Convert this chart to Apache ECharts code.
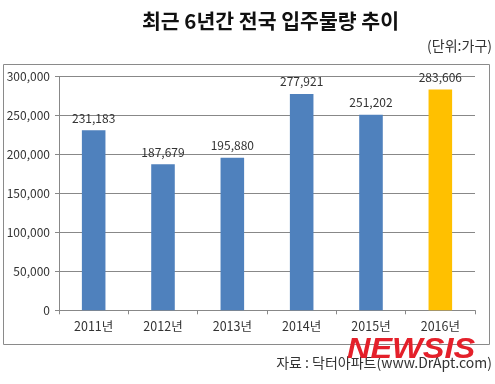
<!DOCTYPE html>
<html><head><meta charset="utf-8">
<script src="https://cdn.jsdelivr.net/npm/echarts@6/dist/echarts.min.js"></script>
<style>html,body{margin:0;padding:0;background:#fff}#c{width:495px;height:384px}</style>
</head><body><div id="c"></div>
<script>
const categories = ['2011년','2012년','2013년','2014년','2015년','2016년'];
const values = [231183, 187679, 195880, 277921, 251202, 283606];
const barColors = ['#4F81BD','#4F81BD','#4F81BD','#4F81BD','#4F81BD','#FFC000'];
const yTicks = [0, 50000, 100000, 150000, 200000, 250000, 300000];

const FONT = '"Noto Sans CJK KR", "Noto Sans", sans-serif';
const fmt = v => v.toLocaleString('en-US');
const chart = echarts.init(document.getElementById('c'), null, {renderer:'canvas'});
chart.setOption({
  animation:false,
  textStyle:{fontFamily:FONT},
  title:[
    {text:'최근 6년간 전국 입주물량 추이', left:137, top:6,
     textStyle:{fontSize:20.5, fontWeight:'bold', color:'#111', fontFamily:FONT}},
  ],
  graphic:[
    {type:'rect', shape:{x:3.5, y:64.5, width:486, height:280}, style:{fill:'none', stroke:'#8a8a8a', lineWidth:1}, z:-1},
    {type:'text', right:3, top:39, style:{text:'(단위:가구)', fontSize:14, fill:'#333', fontFamily:FONT}},
    {type:'text', right:3, top:356, style:{text:'자료 : 닥터아파트(www.DrApt.com)', fontSize:14, fill:'#333', fontFamily:FONT}, z:5},
    {type:'text', x:347, y:335, scaleX:1.12, z:20, style:{text:'NEWSIS', fontSize:29, fontWeight:900, fontStyle:'italic', fill:'#e4202a', fontFamily:'"Liberation Sans", Arial, sans-serif'}}
  ],
  grid:{left:59, right:20, top:76.7, bottom:73.7, containLabel:false},
  xAxis:{type:'category', data:categories,
    axisLine:{lineStyle:{color:'#888'}},
    axisTick:{show:true, length:4, lineStyle:{color:'#888'}},
    axisLabel:{fontSize:12.5, color:'#333', margin:10, fontFamily:FONT}},
  yAxis:{type:'value', min:yTicks[0], max:yTicks[yTicks.length-1], interval:50000,
    axisLine:{show:true, lineStyle:{color:'#888'}},
    axisTick:{show:true, length:4, lineStyle:{color:'#888'}},
    splitLine:{lineStyle:{color:'#888'}},
    axisLabel:{fontSize:12, color:'#333', margin:9, formatter:v=>fmt(v), fontFamily:FONT}},
  series:[{type:'bar', barWidth:'34%',
    data: values.map((v,i)=>({value:v, itemStyle:{color:barColors[i]}})),
    label:{show:true, position:'top', distance:6, fontSize:12, color:'#333', formatter:p=>fmt(p.value), fontFamily:FONT}
  }]
});
</script></body></html>
